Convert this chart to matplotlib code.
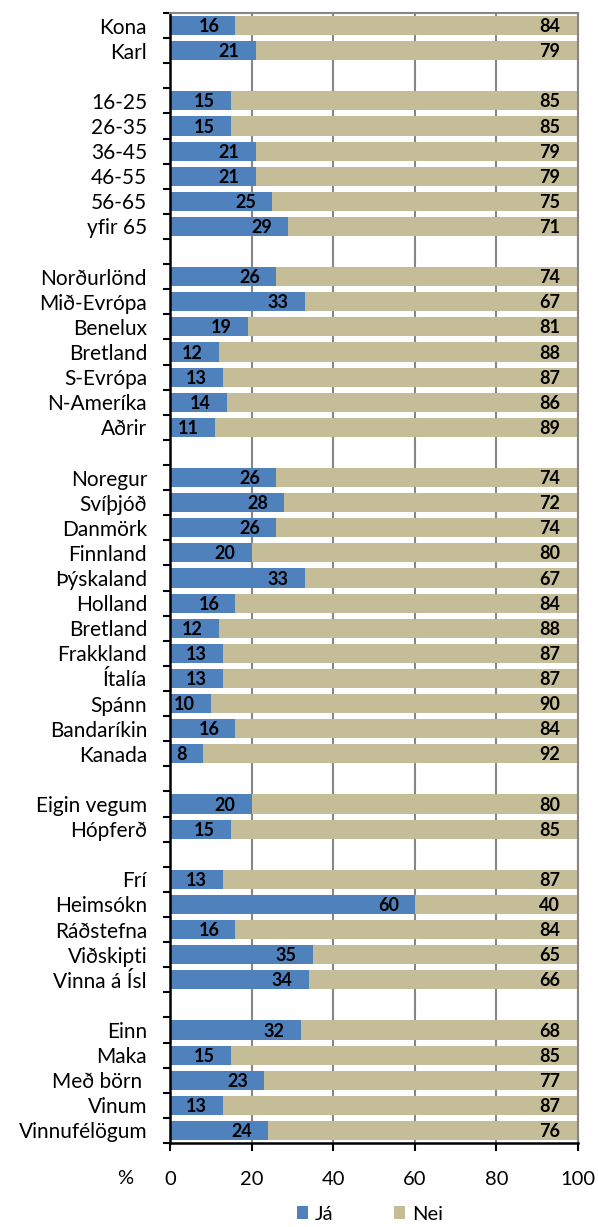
import matplotlib
matplotlib.use("Agg")
import matplotlib.pyplot as plt
import numpy as np

categories = ["Kona", "Karl", "",
              "16-25", "26-35", "36-45", "46-55", "56-65", "yfir 65", "",
              "Norðurlönd", "Mið-Evrópa", "Benelux", "Bretland", "S-Evrópa", "N-Ameríka", "Aðrir", "",
              "Noregur", "Svíþjóð", "Danmörk", "Finnland", "Þýskaland", "Holland", "Bretland",
              "Frakkland", "Ítalía", "Spánn", "Bandaríkin", "Kanada", "",
              "Eigin vegum", "Hópferð", "",
              "Frí", "Heimsókn", "Ráðstefna", "Viðskipti", "Vinna á Ísl", "",
              "Einn", "Maka", "Með börn ", "Vinum", "Vinnufélögum"]
ja = [16, 21, None,
      15, 15, 21, 21, 25, 29, None,
      26, 33, 19, 12, 13, 14, 11, None,
      26, 28, 26, 20, 33, 16, 12, 13, 13, 10, 16, 8, None,
      20, 15, None,
      13, 60, 16, 35, 34, None,
      32, 15, 23, 13, 24]
nei = [84, 79, None,
       85, 85, 79, 79, 75, 71, None,
       74, 67, 81, 88, 87, 86, 89, None,
       74, 72, 74, 80, 67, 84, 88, 87, 87, 90, 84, 92, None,
       80, 85, None,
       87, 40, 84, 65, 66, None,
       68, 85, 77, 87, 76]
series_names = ["Já", "Nei"]
xticks = [0, 20, 40, 60, 80, 100]

BLUE = "#4F81BD"
TAN = "#C4BD97"
FONT = "Lato"
plt.rcParams['font.family'] = [FONT, 'DejaVu Sans']

W, H = 598, 1227
fig = plt.figure(figsize=(W / 100, H / 100), dpi=100)
ax = fig.add_axes([170 / W, 1 - 1143 / H, (578 - 170) / W, (1143 - 13) / H])

n = len(categories)
idx = [i for i in range(n) if ja[i] is not None]
y = np.array(idx, dtype=float)
jv = np.array([ja[i] for i in idx], dtype=float)
nv = np.array([nei[i] for i in idx], dtype=float)

for x in xticks[1:]:
    ax.axvline(x, color="#868686", lw=1.5, zorder=0)

ax.barh(y, jv, height=0.76, color=BLUE, zorder=2, label=series_names[0])
ax.barh(y, nv, left=jv, height=0.76, color=TAN, zorder=2, label=series_names[1])

# data labels: inside end
off = 18 * 100 / 408  # ~18 px in data units
for yi, a, b in zip(y, jv, nv):
    ax.text(a - off + 0.5, yi + 0.04, f"{int(a)}", ha="right", va="center",
            fontsize=13, fontweight="bold", zorder=3)
    ax.text(a + b - off, yi + 0.04, f"{int(b)}", ha="right", va="center",
            fontsize=13, fontweight="bold", zorder=3)

ax.set_xlim(0, 100)
ax.set_ylim(n - 0.5, -0.5)

ax.set_yticks(np.arange(n + 1) - 0.5)
ax.set_yticklabels([])
ax.set_yticks(np.arange(n), minor=True)
ax.set_yticklabels(categories, minor=True)
ax.tick_params(axis="y", which="major", length=5, width=1.5, direction="out")
ax.tick_params(axis="y", which="minor", length=0, pad=16.5, labelsize=15)

ax.set_xticks(xticks)
ax.set_xticklabels([str(v) for v in xticks])
ax.tick_params(axis="x", which="major", length=6, width=1.5, direction="out",
               pad=14, labelsize=14.5)

for s in ["left", "bottom"]:
    ax.spines[s].set_linewidth(1.8)
    ax.spines[s].set_color("black")
for s in ["top", "right"]:
    ax.spines[s].set_linewidth(1.5)
    ax.spines[s].set_color("#868686")

fig.text(125 / W, 1 - 1179 / H, "%", ha="center", va="center", fontsize=14.5)

fig.legend(loc="center", bbox_to_anchor=(370 / W, 1 - 1214 / H), ncol=2,
           frameon=False, fontsize=14.5, handlelength=0.55, handleheight=0.6,
           handletextpad=0.35, columnspacing=3.0, borderaxespad=0, borderpad=0)

fig.savefig("out.png", dpi=100)
